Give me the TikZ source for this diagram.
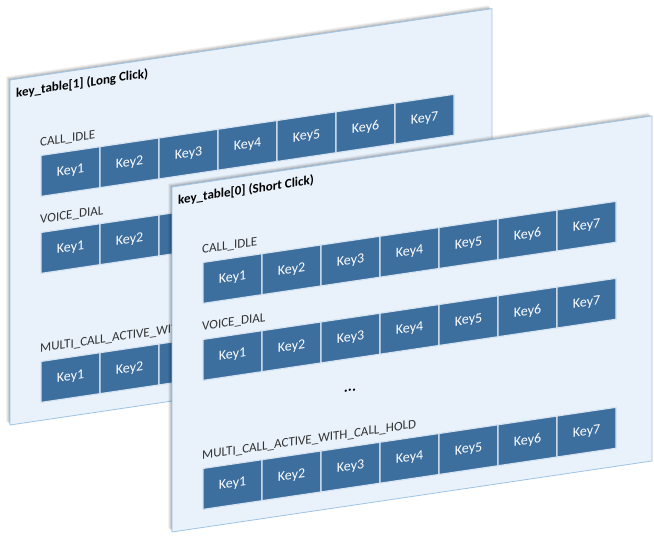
\documentclass[tikz,border=0pt]{standalone}
\usepackage{fontspec}
\setmainfont{Carlito}
\begin{document}
\begin{tikzpicture}[x=1pt,y=-1pt,
  panel/.style={fill=panelfill,draw=panelline,line width=0.8pt},
  cell/.style={fill=keyblue,draw=cellgap,line width=1.2pt},
  keytxt/.style={text=white,font=\fontsize{14}{16}\selectfont,transform shape},
  lbl/.style={text=black!80,font=\fontsize{13}{15}\selectfont,anchor=base west,inner sep=0pt,transform shape},
  ttl/.style={text=black,font=\bfseries\fontsize{13}{15}\selectfont,anchor=base west,inner sep=0pt,transform shape}]
\definecolor{panelfill}{HTML}{E9F2FB}
\definecolor{panelline}{HTML}{9DC3E6}
\definecolor{keyblue}{HTML}{3C6E9E}
\definecolor{cellgap}{HTML}{D6E4F2}
\useasboundingbox (0,0) rectangle (654,546);
\newcommand{\mypanel}[5]{%
 \begin{scope}[shift={(#1,#2)},cm={1,0.148,0,1,(0,0)}]
  \foreach \d/\o in {4/0.05,3/0.07,2/0.09,1/0.1}{
   \fill[black,opacity=\o] (-\d,-\d) rectangle (#3-\d,345-\d);}
  \path[panel] (0,0) rectangle (#3,345);
  \node[ttl] (#5t) at (6,18) {#4};
  \foreach \r/\v/\l in {a/80/CALL\_IDLE,b/157/VOICE\_DIAL,c/286/MULTI\_CALL\_ACTIVE\_WITH\_CALL\_HOLD}{
   \node[lbl] (#5\r l) at (30,\v-9) {\l};
   \foreach \k in {1,...,7}{
    \path[cell] (31+59*\k-59,\v) rectangle (31+59*\k,\v+41);
    \node[keytxt] (#5\r\k) at (31+59*\k-29.5,\v+20.5) {Key\k};}}
 \end{scope}}
\mypanel{10}{80}{482}{key\_table[1] (Long Click)}{back}
\mypanel{172}{187}{480}{key\_table[0] (Short Click)}{front}
\begin{scope}[shift={(172,187)},cm={1,0.148,0,1,(0,0)}]
 \node[font=\bfseries\fontsize{15}{17}\selectfont,transform shape] (dots) at (178,230) {...};
\end{scope}
\end{tikzpicture}
\end{document}
